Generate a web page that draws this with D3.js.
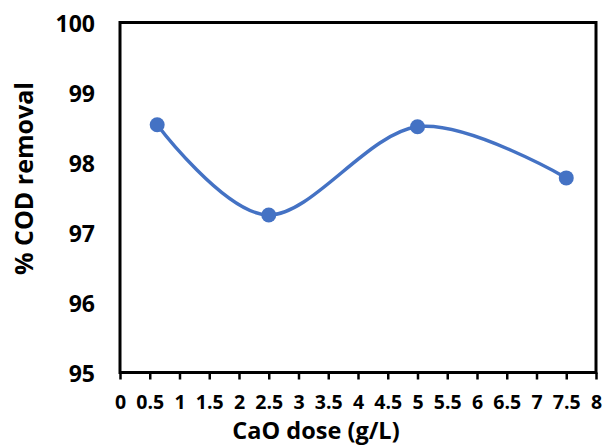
<!DOCTYPE html>
<html><head><meta charset="utf-8">
<script src="https://cdn.jsdelivr.net/npm/d3@7"></script>
<style>body{margin:0;background:#fff}svg{display:block}text{font-family:"Open Sans",sans-serif;font-weight:bold;fill:#000}</style>
</head><body>
<script>
const doses = [0.625, 2.5, 5, 7.5];
const codRemoval = [98.54, 97.25, 98.51, 97.78];
const xTicks = [0,0.5,1,1.5,2,2.5,3,3.5,4,4.5,5,5.5,6,6.5,7,7.5,8];
const yTicks = [95,96,97,98,99,100];

const W=604,H=446;
const svg=d3.select("body").append("svg").attr("width",W).attr("height",H);
const x=d3.scaleLinear().domain([0,8]).range([120,596]);
const y=d3.scaleLinear().domain([95,100]).range([372.5,22.5]);

// box
svg.append("rect").attr("x",x(0)).attr("y",y(100)).attr("width",x(8)-x(0)).attr("height",y(95)-y(100))
  .attr("fill","none").attr("stroke","#000").attr("stroke-width",3);

// x axis
const xa=svg.append("g").attr("transform",`translate(0,${y(95)})`)
  .call(d3.axisBottom(x).tickValues(xTicks).tickSize(7).tickPadding(16).tickFormat(d=>String(d)));
xa.select(".domain").remove();
xa.attr("font-family",null);
xa.selectAll("line").attr("stroke","#000").attr("stroke-width",2.5);
xa.selectAll("text").attr("font-size",19.5).attr("fill","#000");

// y axis
const ya=svg.append("g").attr("transform",`translate(${x(0)},0)`)
  .call(d3.axisLeft(y).tickValues(yTicks).tickSize(0).tickPadding(25).tickFormat(d3.format("d")));
ya.select(".domain").remove();
ya.attr("font-family",null);
ya.selectAll("text").attr("font-size",23).attr("fill","#000").attr("dy","0.4em");

// line
const pts=doses.map((d,i)=>[x(d),y(codRemoval[i])]);
svg.append("path").attr("d",d3.line().curve(d3.curveCardinal.tension(0))(pts))
  .attr("fill","none").attr("stroke","#4472C4").attr("stroke-width",3.5);
svg.selectAll("circle.pt").data(doses).join("circle").attr("class","pt")
  .attr("cx",(d)=>x(d)).attr("cy",(d,i)=>y(codRemoval[i])).attr("r",7.5).attr("fill","#4472C4");

// titles
svg.append("text").attr("x",316).attr("y",438.5).attr("text-anchor","middle").attr("font-size",23.5).text("CaO dose (g/L)");
svg.append("text").attr("transform","translate(33,178.5) rotate(-90)").attr("text-anchor","middle").attr("font-size",25).text("% COD removal");
</script>
</body></html>
